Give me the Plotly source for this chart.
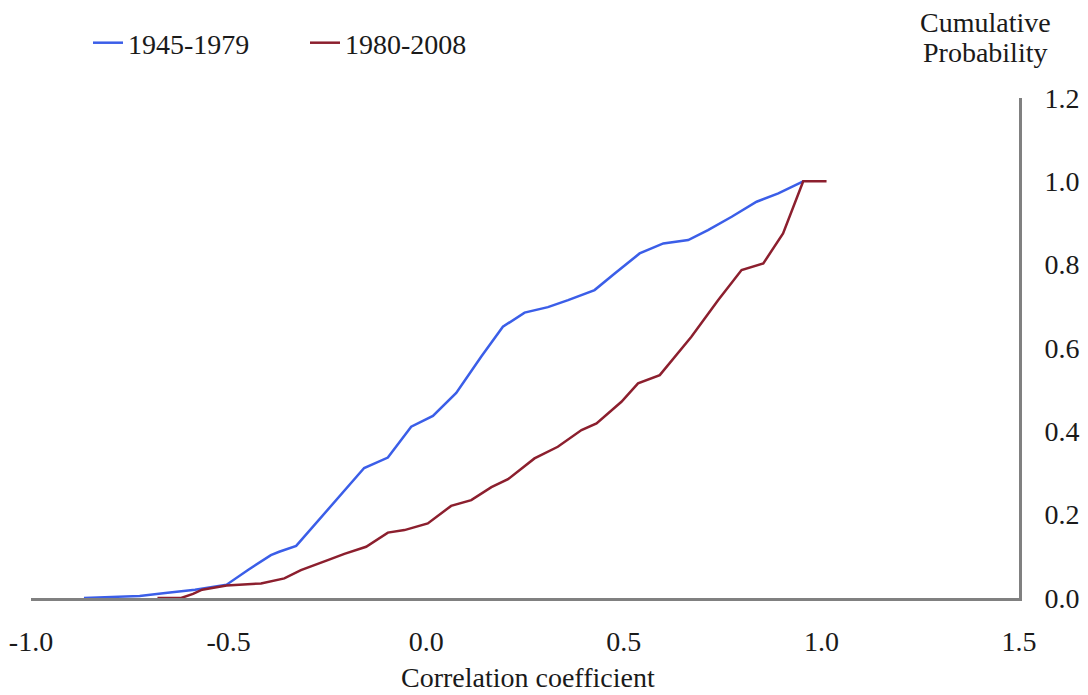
import plotly.graph_objects as go

# 1945-1979 series (correlation coefficient, cumulative probability)
x_early = [-0.866, -0.80, -0.725, -0.66, -0.585, -0.505, -0.45, -0.393, -0.372, -0.329,
           -0.157, -0.097, -0.038, 0.017, 0.076, 0.139, 0.194, 0.249, 0.308, 0.359,
           0.426, 0.477, 0.54, 0.60, 0.663, 0.713, 0.773, 0.836, 0.891, 0.954]
y_early = [0.0, 0.002, 0.005, 0.012, 0.02, 0.032, 0.068, 0.103, 0.111, 0.125,
           0.312, 0.337, 0.411, 0.437, 0.492, 0.579, 0.651, 0.685, 0.698, 0.715,
           0.739, 0.779, 0.827, 0.851, 0.859, 0.883, 0.915, 0.951, 0.971, 1.0]

# 1980-2008 series
x_late = [-0.68, -0.62, -0.59, -0.567, -0.505, -0.418, -0.359, -0.317, -0.249, -0.207,
          -0.152, -0.097, -0.055, 0.004, 0.063, 0.114, 0.165, 0.207, 0.274, 0.333,
          0.393, 0.431, 0.494, 0.536, 0.591, 0.671, 0.739, 0.798, 0.853, 0.903,
          0.954, 1.013]
y_late = [0.0, 0.0, 0.01, 0.02, 0.03, 0.035, 0.047, 0.067, 0.091, 0.106,
          0.123, 0.157, 0.163, 0.179, 0.221, 0.235, 0.266, 0.285, 0.335, 0.363,
          0.403, 0.419, 0.471, 0.515, 0.535, 0.627, 0.715, 0.787, 0.803, 0.875,
          1.0, 1.0]

series_names = ["1945-1979", "1980-2008"]
series_colors = ["#3b5ee8", "#8c1f2e"]

x_ticks = [-1.0, -0.5, 0.0, 0.5, 1.0, 1.5]
y_ticks = [0.0, 0.2, 0.4, 0.6, 0.8, 1.0, 1.2]

FONT = "Liberation Serif, Times New Roman, serif"
FS = 28
TXT = "#1a1a1a"

fig = go.Figure()
for xs, ys, name, col in [(x_early, y_early, series_names[0], series_colors[0]),
                          (x_late, y_late, series_names[1], series_colors[1])]:
    fig.add_trace(go.Scatter(x=xs, y=ys, mode="lines", name=name,
                             line=dict(color=col, width=2.5)))

fig.update_layout(
    width=1088, height=695,
    paper_bgcolor="white", plot_bgcolor="white",
    margin=dict(l=31, r=69, t=98, b=97),
    font=dict(family=FONT, size=FS, color=TXT),
    showlegend=True,
    legend=dict(orientation="h", xref="container", yref="container",
                x=88 / 1088, y=1 - 43 / 695, xanchor="left", yanchor="middle",
                font=dict(family=FONT, size=FS, color=TXT),
                bgcolor="rgba(0,0,0,0)", borderwidth=0,
                entrywidth=172, entrywidthmode="pixels"),
    xaxis=dict(range=[-1.0, 1.5], tickvals=x_ticks,
               ticktext=[f"{v:.1f}" for v in x_ticks],
               showgrid=False, zeroline=False, automargin=False,
               showline=True, linecolor="#808080", linewidth=3,
               ticks="outside", ticklen=16, tickcolor="rgba(0,0,0,0)"),
    yaxis=dict(range=[0, 1.2], tickvals=y_ticks, side="right",
               ticktext=[f"{v:.1f}" for v in y_ticks],
               showgrid=False, zeroline=False, automargin=False,
               showline=True, linecolor="#808080", linewidth=3,
               ticks="outside", ticklen=17, tickcolor="rgba(0,0,0,0)"),
    annotations=[
        dict(text="Correlation coefficient", xref="paper", yref="paper",
             x=(528 - 31) / 988, y=-(677 - 598) / 500, xanchor="center", yanchor="middle",
             showarrow=False, font=dict(family=FONT, size=FS, color=TXT)),
        dict(text="Cumulative", xref="paper", yref="paper",
             x=(985 - 31) / 988, y=1 + (98 - 22) / 500, xanchor="center", yanchor="middle",
             showarrow=False, font=dict(family=FONT, size=FS, color=TXT)),
        dict(text="Probability", xref="paper", yref="paper",
             x=(985 - 31) / 988, y=1 + (98 - 53) / 500, xanchor="center", yanchor="middle",
             showarrow=False, font=dict(family=FONT, size=FS, color=TXT)),
    ],
)

fig.write_html("out.html", config={"displayModeBar": False},
               post_script="document.body.style.margin='0px';")
